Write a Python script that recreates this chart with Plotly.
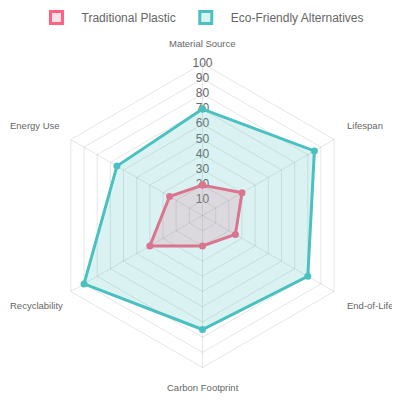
"""Radar chart: traditional plastic vs eco-friendly alternatives."""

import math

import plotly.graph_objects as go

categories = [
    "Material Source",
    "Lifespan",
    "End-of-Life",
    "Carbon Footprint",
    "Recyclability",
    "Energy Use",
]
traditional_plastic = [20, 30, 25, 20, 40, 25]
eco_alternatives = [70, 85, 80, 75, 90, 65]
radial_ticks = [10, 20, 30, 40, 50, 60, 70, 80, 90, 100]

PINK = "rgb(255, 99, 132)"
TEAL = "rgb(75, 192, 192)"
FONT = "Liberation Sans, Arial, Helvetica, sans-serif"

# polar area (paper fractions); the page adds an 8px body margin
DOMAIN_X = [0.10625, 0.86625]
DOMAIN_Y = [0.10125, 0.86125]

fig = go.Figure()

# radial tick labels centered on the vertical axis, drawn under the data
fig.add_trace(go.Scatterpolar(
    r=radial_ticks,
    theta=[categories[0]] * len(radial_ticks),
    mode="text",
    text=[str(t) for t in radial_ticks],
    textfont=dict(size=12, color="#666", family=FONT),
    showlegend=False,
    hoverinfo="skip",
))

series = [
    ("Traditional Plastic", traditional_plastic, PINK, "rgba(255, 99, 132, 0.2)"),
    ("Eco-Friendly Alternatives", eco_alternatives, TEAL, "rgba(75, 192, 192, 0.2)"),
]

for name, values, color, fill in series:
    fig.add_trace(go.Scatterpolar(
        r=values + values[:1],
        theta=categories + categories[:1],
        mode="lines+markers",
        name=name,
        fill="toself",
        fillcolor=fill,
        line=dict(color=color, width=3),
        marker=dict(color=color, size=7),
        showlegend=False,
    ))

# legend-only entries so the legend shows bordered boxes like the original
for name, values, color, fill in series:
    fig.add_trace(go.Barpolar(
        r=[None],
        theta=[categories[0]],
        name=name,
        marker=dict(color=fill, line=dict(color=color, width=3)),
        showlegend=True,
        hoverinfo="skip",
    ))

# category labels just outside the outer ring
cx = (DOMAIN_X[0] + DOMAIN_X[1]) / 2
cy = (DOMAIN_Y[0] + DOMAIN_Y[1]) / 2
radius = (DOMAIN_X[1] - DOMAIN_X[0]) / 2 * 1.08
anchors = [
    ("center", "bottom"),
    ("left", "bottom"),
    ("left", "top"),
    ("center", "top"),
    ("right", "top"),
    ("right", "bottom"),
]
for i, (cat, (xa, ya)) in enumerate(zip(categories, anchors)):
    ang = math.radians(i * 360 / len(categories))
    x = cx + radius * math.sin(ang)
    if xa == "right":
        # left labels would spill past the page edge, pin them to it
        x, xa = 0, "left"
    fig.add_annotation(
        x=x,
        y=cy + radius * math.cos(ang),
        xref="paper",
        yref="paper",
        text=cat,
        showarrow=False,
        xanchor=xa,
        yanchor=ya,
        font=dict(size=9.5, color="#666", family=FONT),
    )

fig.update_layout(
    width=400,
    height=400,
    margin=dict(l=0, r=0, t=0, b=0, autoexpand=False),
    paper_bgcolor="white",
    font=dict(family=FONT, color="#666", size=12),
    showlegend=True,
    legend=dict(
        orientation="h",
        x=0.48,
        xanchor="center",
        y=1.0125,
        yanchor="top",
        font=dict(size=12, color="#666"),
        itemwidth=40,
    ),
    polar=dict(
        domain=dict(x=DOMAIN_X, y=DOMAIN_Y),
        bgcolor="white",
        gridshape="linear",
        angularaxis=dict(
            direction="clockwise",
            rotation=90,
            gridcolor="rgba(0,0,0,0.1)",
            linecolor="rgba(0,0,0,0.1)",
            showticklabels=False,
            ticks="",
        ),
        radialaxis=dict(
            range=[0, 100],
            tickvals=radial_ticks,
            showticklabels=False,
            ticks="",
            gridcolor="rgba(0,0,0,0.1)",
            showline=False,
        ),
    ),
)

fig.write_html("out.html")
